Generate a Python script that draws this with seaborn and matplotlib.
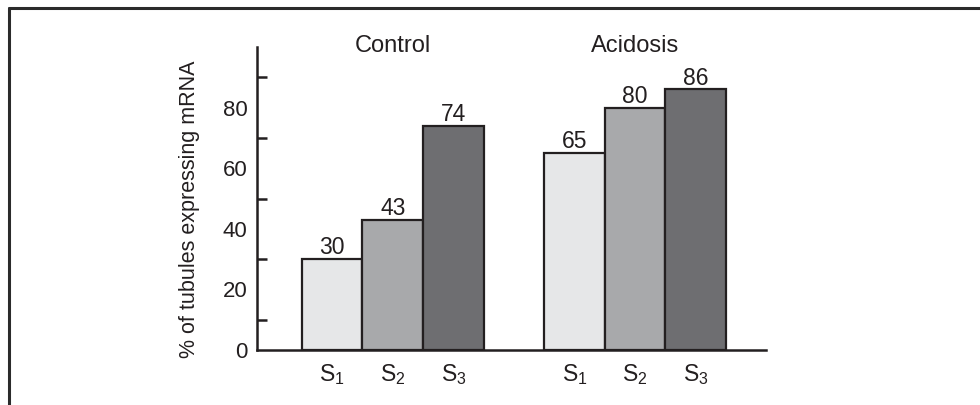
import pandas as pd
import numpy as np
import matplotlib
matplotlib.use("Agg")
import matplotlib.pyplot as plt
import seaborn as sns
from matplotlib.lines import Line2D

# ==========================================
# DATA
# ==========================================

groups = ["Control", "Acidosis"]
stages = ["S1", "S2", "S3"]
stage_labels = [r"$\mathregular{S_1}$", r"$\mathregular{S_2}$", r"$\mathregular{S_3}$"]
control_values = [30, 43, 74]
acidosis_values = [65, 80, 86]
y_ticks = [0, 20, 40, 60, 80]
y_minor_ticks = [10, 30, 50, 70, 90]
y_label = "% of tubules expressing mRNA"

colors = {"S1": "#e6e7e8", "S2": "#a7a9ac", "S3": "#6d6e71"}
edge = "#231f20"

df = pd.DataFrame({
    "group": [groups[0]] * 3 + [groups[1]] * 3,
    "stage": stages * 2,
    "value": control_values + acidosis_values,
})
df["slot"] = df["group"] + "_" + df["stage"]

# empty slot between the two groups
order = [groups[0] + "_" + s for s in stages] + ["gap"] + [groups[1] + "_" + s for s in stages]

# ==========================================
# PLOT
# ==========================================

sns.set_style("white")
plt.rcParams["font.family"] = ["Liberation Sans", "DejaVu Sans"]
plt.rcParams["mathtext.fontset"] = "custom"
plt.rcParams["mathtext.rm"] = "Liberation Sans"
plt.rcParams["mathtext.it"] = "Liberation Sans:italic"

fig = plt.figure(figsize=(9.8, 4.05), dpi=100)
ax = fig.add_axes([257 / 980, 55 / 405, 509 / 980, 303 / 405])

sns.barplot(
    data=df, x="slot", y="value", hue="stage", order=order,
    palette=colors, dodge=False, width=1.0, legend=False,
    edgecolor=edge, linewidth=1.6, ax=ax,
)

ax.set_xlim(-1.24, 7.16)
ax.set_ylim(0, 100)

# value labels above bars
for i, row in df.iterrows():
    xpos = order.index(row["slot"])
    ax.text(xpos, row["value"] + 1.6, str(row["value"]), ha="center",
            va="baseline", fontsize=16.5, color="#231f20")

# group labels
for g in groups:
    centre = np.mean([order.index(g + "_" + s) for s in stages])
    ax.text(centre, 98.5, g, ha="center", va="baseline", fontsize=17,
            color="#231f20", clip_on=False)

# axes styling
sns.despine(ax=ax)
for side in ["left", "bottom"]:
    ax.spines[side].set_color(edge)
    ax.spines[side].set_linewidth(1.8)

ax.set_xticks(range(len(order)))
ax.set_xticklabels(stage_labels + [""] + stage_labels)
ax.tick_params(axis="x", length=0, pad=9, labelsize=16.5, labelcolor="#231f20")

ax.set_yticks(y_ticks)
ax.set_yticks(y_minor_ticks, minor=True)
ax.tick_params(axis="y", which="both", direction="in", length=7.5, width=1.8,
               color=edge, pad=7, labelsize=16, labelcolor="#231f20")
ax.tick_params(axis="y", which="minor", left=True)

ax.set_xlabel("")
ax.set_ylabel(y_label, fontsize=15.5, color="#231f20")
ax.yaxis.set_label_coords(-0.133, 0.465)
ax.yaxis.label.set_verticalalignment("center")

# outer frame (top and left edges)
fig.add_artist(Line2D([9 / 980, 1.0], [397 / 405, 397 / 405], color="#2b2b2b", lw=2.2))
fig.add_artist(Line2D([9 / 980, 9 / 980], [0, 397 / 405], color="#2b2b2b", lw=2.2))

fig.savefig("out.png", dpi=100)
